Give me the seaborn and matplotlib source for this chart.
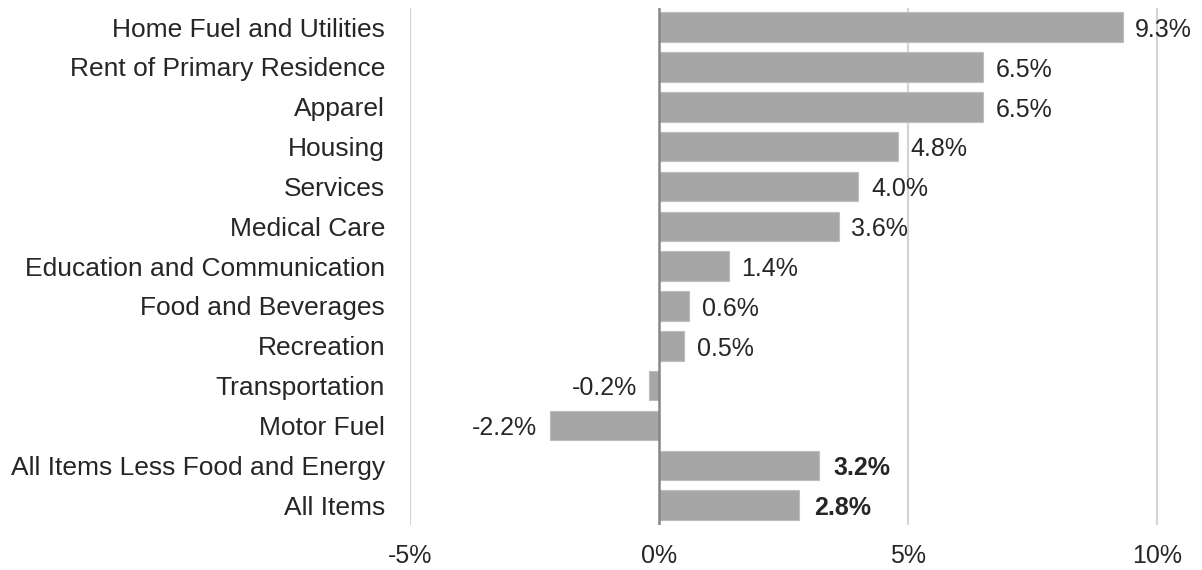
import pandas as pd
import seaborn as sns
import matplotlib.pyplot as plt
from matplotlib.ticker import FuncFormatter

categories = [
    "Home Fuel and Utilities",
    "Rent of Primary Residence",
    "Apparel",
    "Housing",
    "Services",
    "Medical Care",
    "Education and Communication",
    "Food and Beverages",
    "Recreation",
    "Transportation",
    "Motor Fuel",
    "All Items Less Food and Energy",
    "All Items",
]
values = [9.3, 6.5, 6.5, 4.8, 4.0, 3.6, 1.4, 0.6, 0.5, -0.2, -2.2, 3.2, 2.8]
bold_labels = ["All Items Less Food and Energy", "All Items"]
x_ticks = [-5, 0, 5, 10]

df = pd.DataFrame({"Category": categories, "Change": values})

sns.set_style("white")
plt.rcParams["font.family"] = ["Liberation Sans", "DejaVu Sans"]
text_color = "#262626"

fig = plt.figure(figsize=(12.02, 5.70), dpi=100)
ax = fig.add_axes([0.3411, 0.0789, 0.655, 0.907])

# gridlines behind bars
for t in x_ticks:
    if t == 0:
        continue
    ax.axvline(t, color="#d4d4d4", lw=1.6, zorder=0)

sns.barplot(data=df, x="Change", y="Category", orient="h", color="#a6a6a6",
            saturation=1, width=0.74, edgecolor="#bdbdbd", linewidth=0.8,
            ax=ax, zorder=2)

ax.axvline(0, color="#878787", lw=1.8, zorder=3)

# value labels
for i, (cat, v) in enumerate(zip(categories, values)):
    label = f"{v:.1f}%"
    if cat in bold_labels:
        ax.annotate(label, xy=(v, i), xytext=(11, -2), textcoords="offset points",
                    ha="left", va="center", fontsize=18, fontweight="bold",
                    color=text_color)
    elif v >= 0:
        ax.annotate(label, xy=(v, i), xytext=(9, -2), textcoords="offset points",
                    ha="left", va="center", fontsize=18, color=text_color)
    else:
        ax.annotate(label, xy=(v, i), xytext=(-9, -2), textcoords="offset points",
                    ha="right", va="center", fontsize=18, color=text_color)

ax.set_xlim(-5, 10.8)
ax.set_ylim(len(categories) - 0.5, -0.48)
ax.set_xticks(x_ticks)
ax.xaxis.set_major_formatter(FuncFormatter(lambda x, _: f"{x:.0f}%"))
ax.set_xlabel("")
ax.set_ylabel("")
ax.tick_params(axis="y", length=0, pad=18, labelsize=19, labelcolor=text_color)
ax.tick_params(axis="x", length=0, pad=14, labelsize=18, labelcolor=text_color)
sns.despine(ax=ax, left=True, bottom=True)

fig.savefig("out.png", dpi=100)
